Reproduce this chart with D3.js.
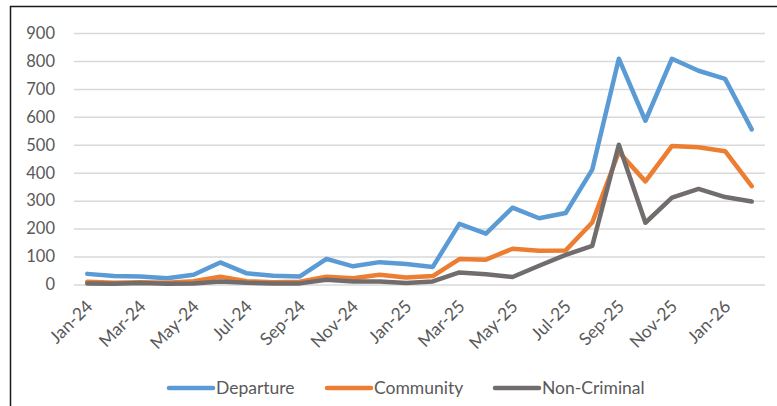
<!DOCTYPE html>
<html>
<head>
<meta charset="utf-8">
<script src="https://cdn.jsdelivr.net/npm/d3@7"></script>
<style>
  html, body { margin: 0; padding: 0; background: #fff; }
  svg { display: block; }
  text { font-family: Lato, "Open Sans", sans-serif; fill: #595959; }
</style>
</head>
<body>
<svg id="chart" width="777" height="406"></svg>
<script>
// Monthly counts, Jan-24 through Feb-26
const months = ["Jan-24","Feb-24","Mar-24","Apr-24","May-24","Jun-24","Jul-24","Aug-24","Sep-24","Oct-24","Nov-24","Dec-24",
                "Jan-25","Feb-25","Mar-25","Apr-25","May-25","Jun-25","Jul-25","Aug-25","Sep-25","Oct-25","Nov-25","Dec-25",
                "Jan-26","Feb-26"];
const departure   = [38, 30, 29, 22, 35, 79, 40, 31, 29, 92, 65, 80, 73, 63, 217, 182, 275, 237, 256, 411, 808, 586, 808, 765, 736, 555];
const community   = [10, 6, 8, 6, 12, 28, 12, 8, 10, 28, 22, 35, 25, 30, 91, 89, 128, 121, 122, 222, 474, 369, 496, 491, 477, 352];
const nonCriminal = [4, 3, 5, 3, 4, 11, 6, 4, 4, 17, 11, 11, 5, 11, 43, 37, 27, 67, 106, 138, 500, 221, 311, 342, 313, 297];
const yTicks = [0, 100, 200, 300, 400, 500, 600, 700, 800, 900];
const seriesNames = ["Departure", "Community", "Non-Criminal"];
const seriesColors = ["#5b9bd5", "#ed7d31", "#716d6d"];

const series = [departure, community, nonCriminal].map((values, i) => ({
  name: seriesNames[i], color: seriesColors[i], values
}));

const svg = d3.select("#chart");

// outer chart frame (left and top edges visible)
svg.append("rect")
  .attr("x", 10.5).attr("y", 6.5)
  .attr("width", 800).attr("height", 420)
  .attr("fill", "none").attr("stroke", "#1a1a1a").attr("stroke-width", 1.5);

const plot = { left: 74, right: 765, top: 33, bottom: 284.5 };

const x = d3.scalePoint().domain(months).range([plot.left, plot.right]).padding(0.5);
const y = d3.scaleLinear().domain([0, 900]).range([plot.bottom, plot.top]);

// horizontal gridlines + value labels
const yAxis = d3.axisLeft(y).tickValues(yTicks).tickSize(-(plot.right - plot.left)).tickPadding(19);
const gy = svg.append("g").attr("transform", `translate(${plot.left},0)`).call(yAxis);
gy.select(".domain").remove();
gy.selectAll(".tick line").attr("stroke", "#d9d9d9").attr("stroke-width", 1.5);
gy.selectAll(".tick text")
  .attr("font-size", 16.5).attr("fill", "#595959")
  .style("font-family", "Lato, 'Open Sans', sans-serif");

// category labels, every other month, slanted
const xAxis = d3.axisBottom(x).tickValues(months.filter((d, i) => i % 2 === 0)).tickSize(0).tickPadding(0);
const gx = svg.append("g").attr("transform", `translate(0,${plot.bottom})`).call(xAxis);
gx.select(".domain").remove();
gx.selectAll(".tick text")
  .attr("font-size", 17.5).attr("fill", "#595959")
  .style("font-family", "Lato, 'Open Sans', sans-serif")
  .attr("text-anchor", "end")
  .attr("dy", null).attr("y", null)
  .attr("transform", "translate(6,23) rotate(-45)");

// series lines
const line = d3.line().x((d, i) => x(months[i])).y(d => y(d));
svg.append("g").selectAll("path")
  .data(series)
  .join("path")
  .attr("d", d => line(d.values))
  .attr("fill", "none")
  .attr("stroke", d => d.color)
  .attr("stroke-width", 4.5)
  .attr("stroke-linejoin", "round")
  .attr("stroke-linecap", "round");

// legend
const legendX = [169, 327, 495];
const legend = svg.append("g").selectAll("g")
  .data(series)
  .join("g")
  .attr("transform", (d, i) => `translate(${legendX[i]},388)`);
legend.append("line")
  .attr("x1", 0).attr("x2", 44).attr("y1", 0).attr("y2", 0)
  .attr("stroke", d => d.color).attr("stroke-width", 4.5).attr("stroke-linecap", "round");
legend.append("text")
  .attr("x", 47).attr("y", 0).attr("dy", "0.36em")
  .attr("font-size", 17.5)
  .text(d => d.name);
</script>
</body>
</html>
